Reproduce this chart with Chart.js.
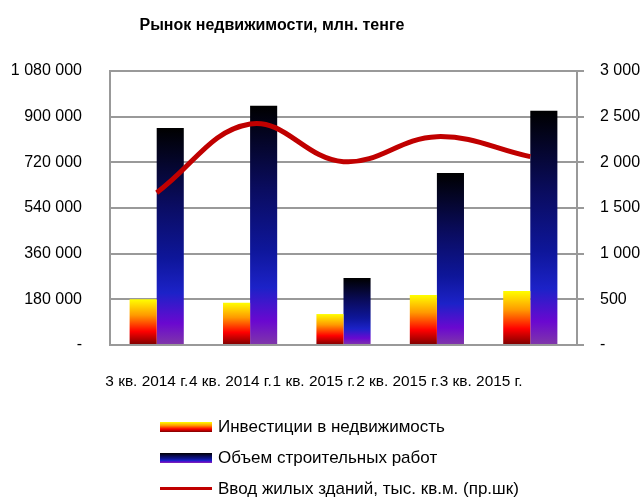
<!DOCTYPE html>
<html>
<head>
<meta charset="utf-8">
<script src="https://cdn.jsdelivr.net/npm/chart.js@4.4.1/dist/chart.umd.min.js"></script>
<style>
    body { margin: 0; background: #fff; }
    #wrap { position: relative; width: 644px; height: 497px; font-family: 'Liberation Sans', Arial, sans-serif; }
    #title { position: absolute; left: 0; width: 544px; top: 16px; text-align: center; font-weight: bold; font-size: 16px; color: #000; }
    #legend { position: absolute; left: 160px; top: 416px; font-size: 17px; color: #000; }
    .item { display: flex; align-items: center; height: 21px; margin-bottom: 10px; }
    .sw { width: 52px; height: 10px; margin-right: 6px; }
    .sw.line { height: 3px; background: #c00000; }
</style>
</head>
<body>
<div id="wrap">
    <canvas id="chart" width="644" height="497"></canvas>
    <div id="title">Рынок недвижимости, млн. тенге</div>
    <div id="legend"></div>
</div>
<script>
const quarters = ['3 кв. 2014 г.', '4 кв. 2014 г.', '1 кв. 2015 г.', '2 кв. 2015 г.', '3 кв. 2015 г.'];
const investments = [180000, 167000, 122000, 197000, 213000];
const construction = [855000, 943000, 264000, 678000, 923000];
const housing = [1668, 2420, 2007, 2281, 2062];

const leftTicks = [0, 180000, 360000, 540000, 720000, 900000, 1080000];
const rightTicks = [0, 500, 1000, 1500, 2000, 2500, 3000];

const seriesNames = ['Инвестиции в недвижимость', 'Объем строительных работ', 'Ввод жилых зданий, тыс. кв.м. (пр.шк)'];

const fireStops = [[0, '#ffff00'], [0.35, '#ff9900'], [0.7, '#ff0000'], [1, '#7a0000']];
const nightStops = [[0, '#000000'], [0.35, '#0a0c60'], [0.6, '#0e169a'], [0.76, '#1c22c8'], [0.9, '#6a08d0'], [1, '#8038a8']];

const gridColor = '#999999';

// number format like "1 080 000", zero shown as dash
const fmt = (v) => v === 0 ? '-' : String(v).replace(/\B(?=(\d{3})+(?!\d))/g, '\u00a0');

const barGradient = (stops) => (c) => {
    const { chart } = c;
    const { ctx, chartArea, scales } = chart;
    if (!chartArea || c.type !== 'data') return stops[Math.floor(stops.length / 2)][1];
    const top = scales.y.getPixelForValue(c.raw);
    const bottom = scales.y.getPixelForValue(0);
    const g = ctx.createLinearGradient(0, top, 0, bottom);
    stops.forEach(([p, col]) => g.addColorStop(p, col));
    return g;
};

const cssGradient = (stops) => 'linear-gradient(to bottom, ' + stops.map(([p, c]) => c + ' ' + (p * 100) + '%').join(', ') + ')';

const ctx = document.getElementById('chart').getContext('2d');
Chart.defaults.font.family = "'Liberation Sans', Arial, sans-serif";
Chart.defaults.font.size = 16;
Chart.defaults.color = '#000';

new Chart(ctx, {
    type: 'bar',
    data: {
        labels: quarters,
        datasets: [
            {
                type: 'line',
                label: seriesNames[2],
                data: housing,
                yAxisID: 'y1',
                borderColor: '#c00000',
                borderWidth: 5,
                pointRadius: 0,
                tension: 0.4,
                order: 0
            },
            {
                label: seriesNames[0],
                data: investments,
                yAxisID: 'y',
                backgroundColor: barGradient(fireStops),
                categoryPercentage: 0.58,
                barPercentage: 1,
                order: 1
            },
            {
                label: seriesNames[1],
                data: construction,
                yAxisID: 'y',
                backgroundColor: barGradient(nightStops),
                categoryPercentage: 0.58,
                barPercentage: 1,
                order: 2
            }
        ]
    },
    options: {
        responsive: false,
        animation: false,
        layout: { padding: { top: 71, left: 0, right: 0, bottom: 102 } },
        plugins: {
            legend: { display: false },
            tooltip: { enabled: false }
        },
        scales: {
            x: {
                type: 'category',
                display: false
            },
            // label axis: Excel packs the quarter labels tighter than the categories
            xl: {
                type: 'linear',
                axis: 'x',
                position: 'bottom',
                offset: false,
                bounds: 'data',
                min: -0.44,
                max: 5.146,
                afterBuildTicks: (s) => { s.ticks = quarters.map((_, i) => ({ value: i })); },
                afterFit: (s) => { s.height = 50; },
                grid: { display: false, drawTicks: false, offset: false },
                border: { color: gridColor, width: 2 },
                ticks: {
                    padding: 28,
                    maxRotation: 0,
                    autoSkip: false,
                    font: { size: 15.4 },
                    callback: (v) => quarters[v]
                }
            },
            y: {
                position: 'left',
                min: 0,
                max: 1080000,
                afterBuildTicks: (s) => { s.ticks = leftTicks.map(v => ({ value: v })); },
                afterFit: (s) => { s.width = 110; },
                grid: { color: gridColor, lineWidth: 2, drawTicks: false },
                border: { color: gridColor, width: 2 },
                ticks: { padding: 28, callback: fmt }
            },
            y1: {
                position: 'right',
                min: 0,
                max: 3000,
                afterBuildTicks: (s) => { s.ticks = rightTicks.map(v => ({ value: v })); },
                afterFit: (s) => { s.width = 67; },
                grid: { color: gridColor, lineWidth: 2, drawOnChartArea: false, drawTicks: true, tickLength: 7 },
                border: { color: gridColor, width: 2 },
                ticks: { padding: 16, callback: fmt }
            }
        }
    }
});

// legend built from the series names
const legend = document.getElementById('legend');
[cssGradient(fireStops), cssGradient(nightStops), null].forEach((bg, i) => {
    const item = document.createElement('div');
    item.className = 'item';
    const sw = document.createElement('div');
    sw.className = bg ? 'sw' : 'sw line';
    if (bg) sw.style.background = bg;
    const txt = document.createElement('span');
    txt.textContent = seriesNames[i];
    item.appendChild(sw);
    item.appendChild(txt);
    legend.appendChild(item);
});
</script>
</body>
</html>
